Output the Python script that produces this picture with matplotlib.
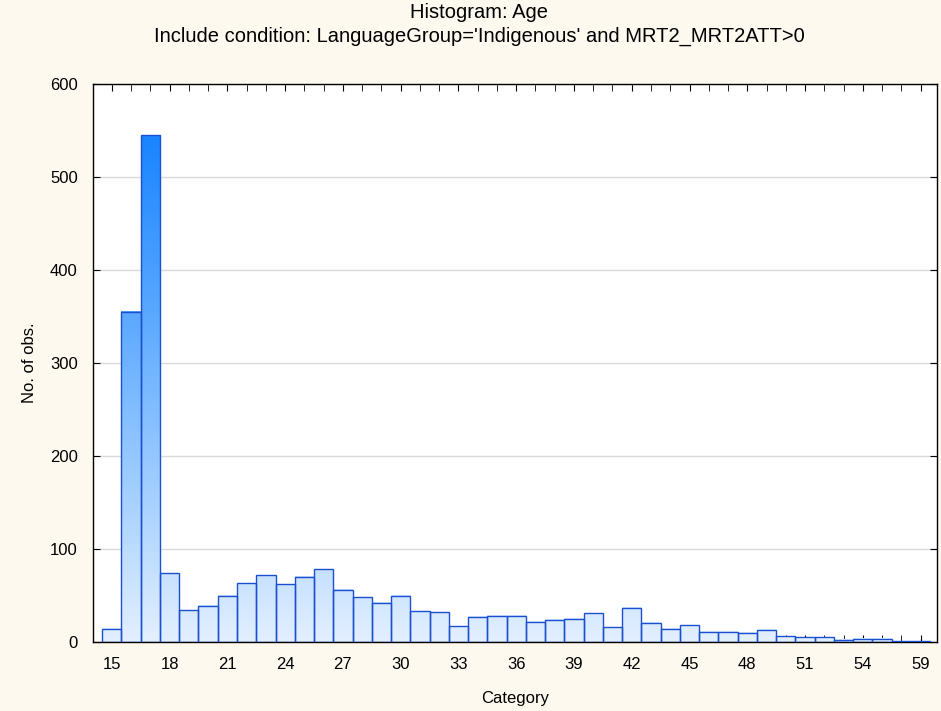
import numpy as np
import matplotlib
matplotlib.use("Agg")
import matplotlib.pyplot as plt
from matplotlib.colors import LinearSegmentedColormap
from matplotlib.ticker import MultipleLocator

# Age histogram counts, one bar per year
ages = list(range(15, 58))
counts = [14, 355, 545, 74, 34, 39, 50, 63, 72, 62, 70, 78, 56, 48, 42, 50,
          33, 32, 17, 27, 28, 28, 22, 24, 25, 31, 16, 37, 21, 14, 18, 11, 11,
          10, 13, 6, 5, 5, 2.5, 3.5, 3.5, 1, 1]
tick_pos = list(range(15, 58, 3))
tick_labels = ["15", "18", "21", "24", "27", "30", "33", "36", "39", "42",
               "45", "48", "51", "54", "59"]

plt.rcParams['font.family'] = ['Liberation Sans', 'DejaVu Sans']
bg = '#fdf9ef'
fig = plt.figure(figsize=(9.41, 7.11), dpi=100, facecolor=bg)
ax = fig.add_axes([0.0988, 0.097, 0.8969, 0.7849])
ax.set_facecolor('white')

# colour follows the absolute height, light at 0 to strong blue at the max
cmap = LinearSegmentedColormap.from_list(
    'bars', [(0, '#e3f0ff'), (0.33, '#9ccbff'), (0.65, '#5aa8ff'), (1, '#1a84ff')])
ymax = max(counts)
for a, c in zip(ages, counts):
    grad = np.linspace(0, c / ymax, 200).reshape(-1, 1)
    ax.imshow(grad, extent=[a - 0.5, a + 0.5, 0, c], origin='lower', aspect='auto',
              cmap=cmap, vmin=0, vmax=1, zorder=2)
ax.bar(ages, counts, width=1.0, facecolor='none', edgecolor='#1a50d0', linewidth=1.0, zorder=3)

ax.set_xlim(14.02, 57.85)
ax.set_ylim(0, 600)
ax.set_yticks(range(0, 601, 100))
ax.set_xticks(tick_pos)
ax.set_xticklabels(tick_labels)
ax.xaxis.set_minor_locator(MultipleLocator(1))
ax.yaxis.grid(True, color='#d9d9d9', linewidth=1, zorder=1)
ax.set_axisbelow(True)
ax.tick_params(axis='both', which='both', direction='in', top=True, right=True,
               labelsize=12, colors='black')
ax.tick_params(axis='x', which='major', length=5, pad=11)
ax.tick_params(axis='x', which='minor', length=5)
ax.tick_params(axis='y', which='major', length=5, pad=11)
for s in ax.spines.values():
    s.set_color('black')
    s.set_linewidth(1.0)

ax.set_xlabel('Category', fontsize=12, labelpad=13.5)
ax.set_ylabel('No. of obs.', fontsize=12, labelpad=9)

fig.text(0.509, 0.983, 'Histogram: Age', ha='center', va='center', fontsize=14.5)
fig.text(0.509, 0.949, "Include condition: LanguageGroup='Indigenous' and MRT2_MRT2ATT>0",
         ha='center', va='center', fontsize=14.5)

fig.savefig('out.png', dpi=100, facecolor=bg)
